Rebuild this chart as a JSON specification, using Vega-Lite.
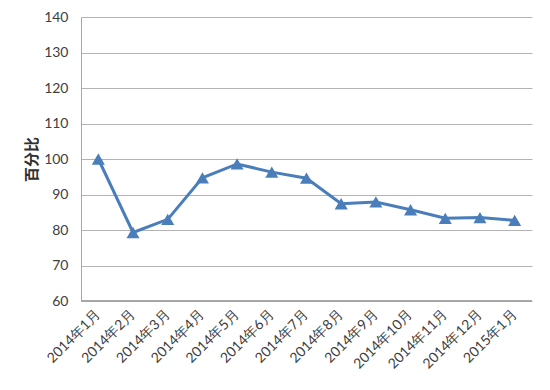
{
  "$schema": "https://vega.github.io/schema/vega-lite/v6.json",
  "autosize": {"type": "none"},
  "width": 451,
  "height": 284,
  "padding": {"left": 81, "top": 17, "right": 18, "bottom": 89},
  "background": "white",
  "config": {
    "view": {"stroke": null},
    "axis": {"labelFont": "Lato", "labelColor": "#404040", "gridColor": "#b3b3b3", "domainColor": "#a6a6a6", "tickColor": "#a6a6a6"}
  },
  "data": {
    "values": [
      {"month": "2014年1月", "value": 100},
      {"month": "2014年2月", "value": 79.3},
      {"month": "2014年3月", "value": 83.0},
      {"month": "2014年4月", "value": 94.7},
      {"month": "2014年5月", "value": 98.6},
      {"month": "2014年6月", "value": 96.3},
      {"month": "2014年7月", "value": 94.6},
      {"month": "2014年8月", "value": 87.4},
      {"month": "2014年9月", "value": 87.9},
      {"month": "2014年10月", "value": 85.7},
      {"month": "2014年11月", "value": 83.3},
      {"month": "2014年12月", "value": 83.5},
      {"month": "2015年1月", "value": 82.7}
    ]
  },
  "encoding": {
    "x": {
      "field": "month", "type": "ordinal", "sort": null,
      "scale": {"type": "band", "paddingInner": 0, "paddingOuter": 0},
      "axis": {"title": null, "labelAngle": -45, "labelAlign": "right", "labelBaseline": "middle", "labelFontSize": 14, "labelOverlap": false, "ticks": false, "grid": false, "domain": false, "labelPadding": 11, "labelFont": "Lato"}
    },
    "y": {
      "field": "value", "type": "quantitative",
      "scale": {"domain": [60, 140], "nice": false, "zero": false},
      "axis": {"title": "百分比", "titleFont": "Noto Sans CJK SC", "titleFontSize": 15, "titleFontWeight": "bold", "titleColor": "#303030", "titlePadding": 4, "values": [60,70,80,90,100,110,120,130,140], "labelOverlap": false, "labelFontSize": 14, "ticks": false, "labelPadding": 13, "domain": true}
    }
  },
  "layer": [
    {"mark": {"type": "line", "color": "#4a7ebb", "strokeWidth": 3}},
    {"mark": {"type": "point", "shape": "triangle-up", "filled": true, "size": 170, "color": "#4a7ebb", "opacity": 1}},
    {"mark": {"type": "rule", "color": "#a6a6a6"}, "encoding": {"x": null, "y": {"datum": 60}}}
  ]
}
